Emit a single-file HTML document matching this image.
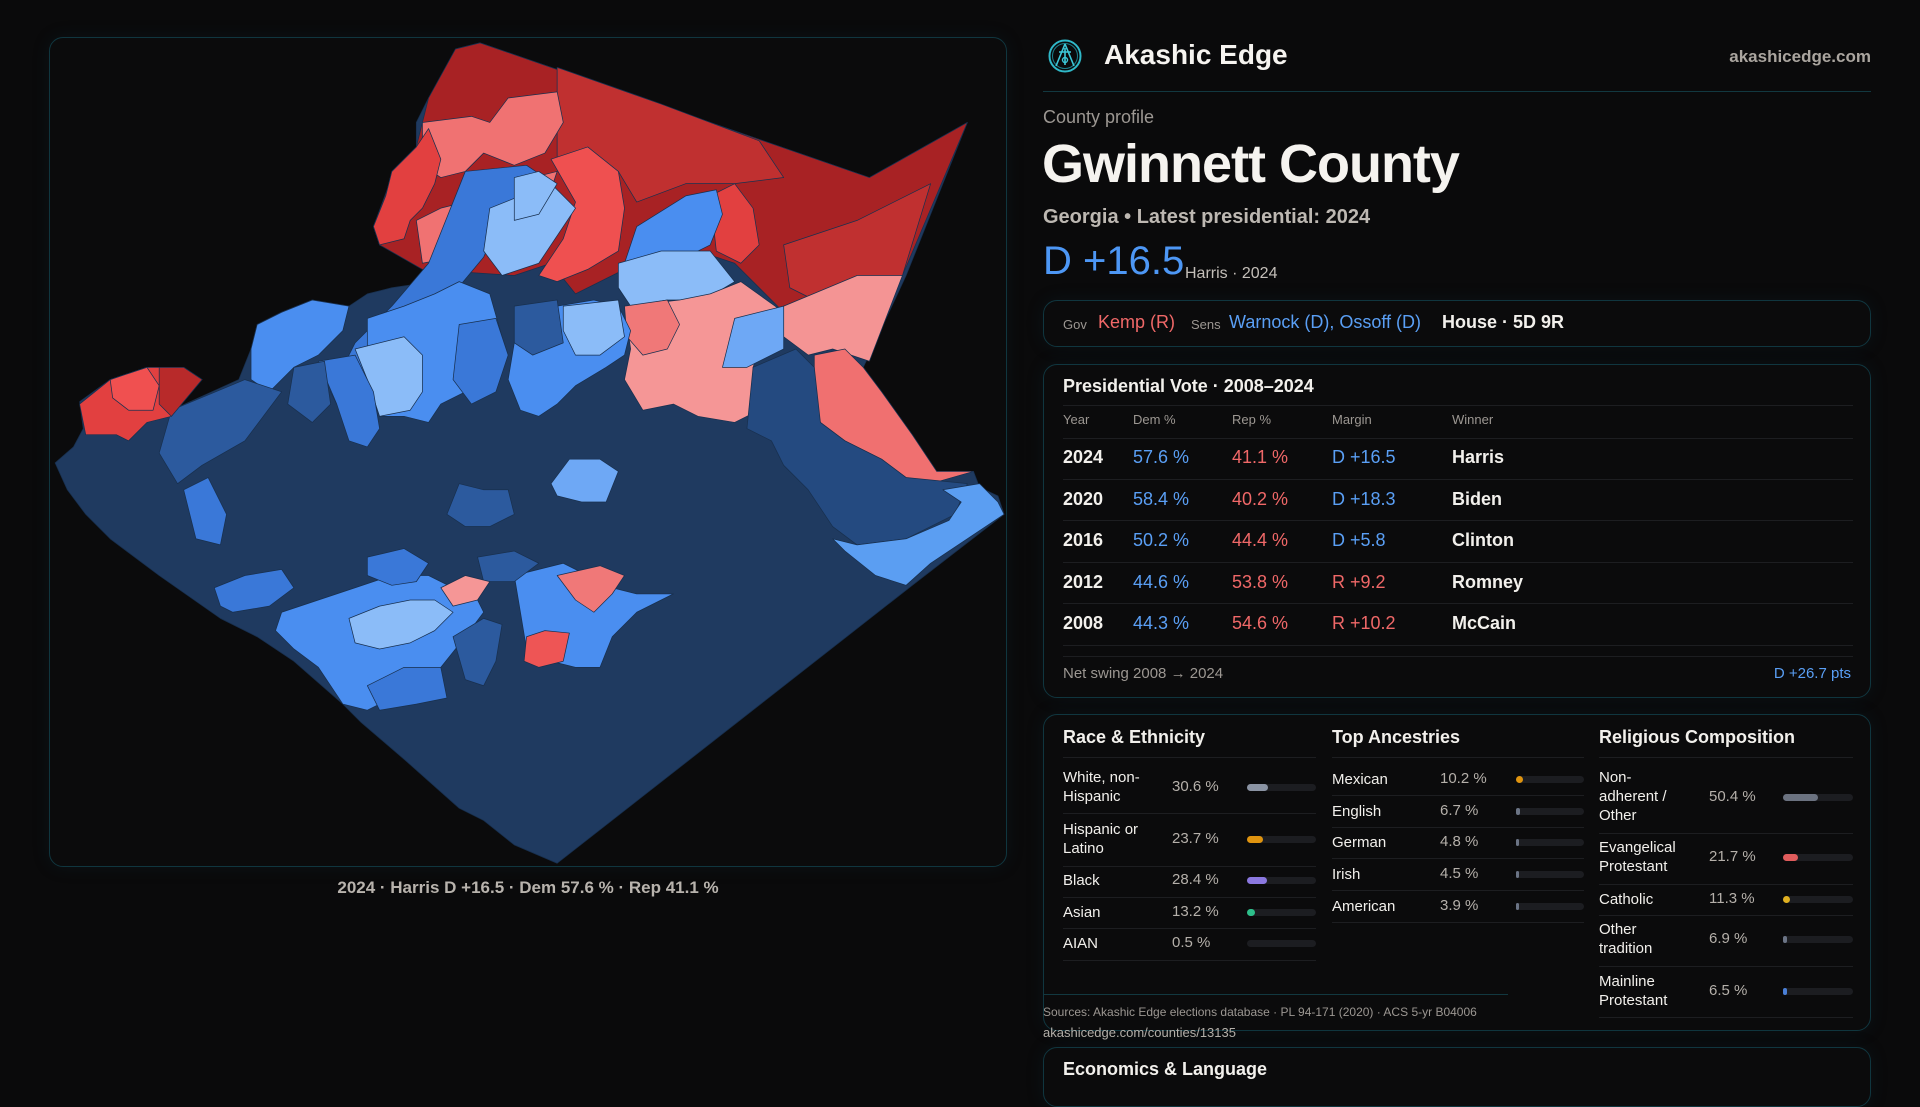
<!DOCTYPE html>
<html><head><meta charset="utf-8">
<style>
*{margin:0;padding:0;box-sizing:border-box}
html,body{width:1920px;height:1080px;background:#0a0a0b;overflow:hidden;font-family:"Liberation Sans",sans-serif;color:#f2f0ec}
.a{position:absolute;white-space:nowrap}
.box{position:absolute;border:1px solid #10363f;border-radius:14px;background:#0b0b0c;box-shadow:0 0 18px rgba(20,70,90,0.15)}
.g{color:#9c9792}
.b{color:#5a9ff5}
.r{color:#f06868}
.ln{position:absolute;height:1px;background:#1d1e21}
.trk{position:absolute;height:7px;border-radius:4px;background:#1c1d21}
.fil{position:absolute;height:7px;border-radius:4px;left:0;top:0}
.lbl{font-size:15px;line-height:19px;color:#f2f0ec}
.val{font-size:15px;color:#b5b0aa}
</style></head><body>

<div class="box" style="left:49px;top:37px;width:958px;height:830px"></div>
<svg class="a" style="left:0;top:0" width="1920" height="1080" viewBox="0 0 1568 882">
<g stroke="#18304f" stroke-width="0.6" stroke-linejoin="round">
<polygon fill="#1f3a60" points="392,35 710,145 790,100 740,225 705,300 720,320 745,355 765,385 795,385 800,398 815,405 820,420 745,478 455,705 420,690 395,670 375,660 330,620 295,590 280,575 240,540 210,520 180,505 130,470 90,440 70,420 55,400 45,378 60,365 68,350 65,328 90,310 120,300 150,300 165,310 140,335 195,310 205,285 210,265 230,255 255,245 285,250 300,240 320,235 340,232 350,225 345,215 310,200 305,185 315,160 320,140 340,120 340,100 350,80 360,70 372,40"/>
<polygon fill="#a82224" points="350,80 372,40 392,35 710,145 790,100 737,225 700,230 660,250 640,255 600,215 555,200 510,220 470,240 450,215 420,225 345,220 310,200 305,185 318,150 340,120"/>
<polygon fill="#c03030" points="455,55 540,85 620,115 640,145 600,150 560,150 520,165 505,140 480,155 455,130"/>
<polygon fill="#c03030" points="640,200 700,180 760,150 737,225 700,230 665,245 645,235"/>
<polygon fill="#f07272" points="345,100 385,95 400,100 415,80 455,75 460,100 445,125 420,135 395,125 380,140 360,145 345,135"/>
<polygon fill="#f07272" points="340,180 360,170 380,165 400,175 415,160 435,145 455,140 440,185 405,200 370,210 345,215"/>
<polygon fill="#e24040" points="305,185 315,160 320,140 340,120 350,105 360,130 355,150 345,170 335,180 330,195 310,200"/>
<polygon fill="#ef5050" points="450,130 480,120 505,140 510,170 505,205 480,220 455,230 440,225 460,195 470,165"/>
<polygon fill="#e24040" points="580,160 600,150 615,170 620,200 605,215 585,205"/>
<polygon fill="#4a8ef0" points="520,185 560,160 585,155 590,175 580,200 560,210 535,215 510,215"/>
<polygon fill="#8bbcf8" points="505,215 540,205 580,205 600,230 575,245 545,245 515,250 505,235"/>
<polygon fill="#f59696" points="510,250 555,245 580,240 605,230 640,255 625,270 615,300 620,335 600,345 570,340 550,330 525,335 510,310 515,285"/>
<polygon fill="#f07878" points="510,250 545,245 555,265 545,285 525,290 512,275"/>
<polygon fill="#f49494" points="640,250 700,225 737,225 710,295 680,285 660,290 640,275"/>
<polygon fill="#f07070" points="665,290 690,285 705,300 720,320 745,355 765,385 795,385 760,395 740,390 720,375 690,360 670,345 665,320"/>
<polygon fill="#6ea8f5" points="600,260 640,250 640,285 610,300 590,300"/>
<polygon fill="#3a78d8" points="380,140 430,135 445,145 410,175 395,210 370,240 350,265 330,290 310,300 300,330 285,350 270,320 290,280 320,250 350,215"/>
<polygon fill="#8bbcf8" points="400,170 450,150 470,170 440,215 410,225 395,205"/>
<polygon fill="#8bbcf8" points="420,145 440,140 455,150 440,175 420,180"/>
<polygon fill="#4a8ef0" points="300,260 330,250 355,240 375,230 400,240 410,275 390,300 380,320 360,330 350,345 330,340 310,340 300,305"/>
<polygon fill="#8bbcf8" points="290,285 330,275 345,290 345,320 335,335 310,340 300,310"/>
<polygon fill="#4a8ef0" points="205,285 210,265 230,255 255,245 285,250 280,270 260,290 240,300 220,320 205,310"/>
<polygon fill="#3a78d8" points="260,295 290,290 305,320 310,350 300,365 285,360 275,330"/>
<polygon fill="#2c5a9e" points="140,335 200,310 230,320 200,360 165,380 145,395 130,370"/>
<polygon fill="#3a78d8" points="150,400 170,390 185,420 180,445 160,440"/>
<polygon fill="#2c5a9e" points="240,300 265,295 270,330 255,345 235,330"/>
<polygon fill="#e24040" points="65,330 90,310 120,300 150,300 165,310 140,340 120,345 105,360 95,355 70,355"/>
<polygon fill="#f05050" points="90,310 120,300 130,315 125,335 105,335 92,325"/>
<polygon fill="#b82a2a" points="130,300 150,300 165,310 140,340 130,330"/>
<polygon fill="#4a8ef0" points="420,260 455,250 485,245 505,250 515,270 510,290 495,300 470,315 455,330 440,340 425,335 415,310 420,280"/>
<polygon fill="#8bbcf8" points="460,250 505,245 510,275 490,290 470,290 460,270"/>
<polygon fill="#2c5a9e" points="420,250 455,245 460,280 435,290 420,280"/>
<polygon fill="#3a78d8" points="375,265 405,260 415,290 405,320 385,330 370,310"/>
<polygon fill="#6ea8f5" points="465,375 490,375 505,385 495,410 475,410 455,405 450,395"/>
<polygon fill="#2c5a9e" points="375,395 395,400 415,400 420,420 400,430 380,430 365,420"/>
<polygon fill="#244a80" points="615,300 650,285 665,300 670,345 690,360 720,375 740,390 790,395 780,420 740,440 700,445 680,430 660,400 640,380 630,360 610,350"/>
<polygon fill="#5b9ef2" points="770,400 800,395 815,410 820,420 760,460 740,478 715,470 690,450 680,440 700,445 740,440 775,425 785,410"/>
<polygon fill="#4a8ef0" points="230,500 260,490 290,480 320,470 350,470 370,480 390,490 395,500 380,520 360,545 345,560 320,570 300,580 280,575 260,545 240,530 225,515"/>
<polygon fill="#8bbcf8" points="285,505 310,495 335,490 355,490 370,500 355,515 335,525 310,530 290,525"/>
<polygon fill="#3a78d8" points="175,480 200,470 230,465 240,480 220,495 190,500 180,495"/>
<polygon fill="#3a78d8" points="300,455 330,448 350,460 340,475 320,478 300,470"/>
<polygon fill="#4a8ef0" points="420,470 460,460 480,470 500,480 520,485 550,485 520,500 500,520 490,545 470,545 450,540 430,530 425,500"/>
<polygon fill="#2c5a9e" points="390,455 420,450 440,460 420,475 395,475"/>
<polygon fill="#f59696" points="360,480 380,470 400,475 390,490 370,495"/>
<polygon fill="#f07878" points="455,470 490,462 510,470 500,485 485,500 470,490"/>
<polygon fill="#ee5555" points="430,520 445,515 465,517 460,540 440,545 428,540"/>
<polygon fill="#3a78d8" points="300,560 330,545 360,545 365,570 340,575 310,580"/>
<polygon fill="#2c5a9e" points="395,505 410,510 405,540 395,560 380,555 370,520"/>
</g>
</svg>
<div class="a" style="left:0;width:1056px;top:878px;text-align:center;font-size:17px;color:#b8b3ad;font-weight:bold">2024 · Harris D +16.5 · Dem 57.6 % · Rep 41.1 %</div>

<!-- header -->
<svg class="a" style="left:1047px;top:38px" width="36" height="36" viewBox="0 0 36 36"><circle cx="18" cy="18" r="15.5" fill="none" stroke="#2fb8c8" stroke-width="2"/><circle cx="18" cy="18" r="12.5" fill="none" stroke="#1d7f8c" stroke-width="1"/><path d="M18 6 L9 28 M18 6 L27 28 M12 14 L24 14 M18 10 L18 27" stroke="#3cc8d8" stroke-width="1.6" fill="none"/><circle cx="18" cy="22" r="2.5" fill="none" stroke="#3cc8d8" stroke-width="1.4"/></svg>
<div class="a" style="left:1104px;top:39px;font-size:28px;font-weight:bold;color:#f6f4f0">Akashic Edge</div>
<div class="a" style="right:49px;top:47px;font-size:17px;font-weight:bold;color:#aaa59f">akashicedge.com</div>
<div class="a" style="left:1043px;top:91px;width:828px;height:1px;background:#123840"></div>
<div class="a g" style="left:1043px;top:107px;font-size:18px">County profile</div>
<div class="a" style="left:1042px;top:133px;font-size:54px;font-weight:bold;color:#f5f3ef;letter-spacing:-1px">Gwinnett County</div>
<div class="a" style="left:1043px;top:206px;font-size:20px;font-weight:bold;color:#bdb8b2">Georgia • Latest presidential: 2024</div>
<div class="a" style="left:1043px;top:239px;font-size:40px;color:#4d97f5">D +16.5</div>
<div class="a" style="left:1185px;top:265px;font-size:16px;color:#c4bfb9">Harris · 2024</div>

<div class="box" style="left:1043px;top:300px;width:828px;height:47px"></div>
<div class="a g" style="left:1063px;top:317px;font-size:13px">Gov</div>
<div class="a r" style="left:1098px;top:312px;font-size:18px">Kemp (R)</div>
<div class="a g" style="left:1191px;top:317px;font-size:13px">Sens</div>
<div class="a b" style="left:1229px;top:312px;font-size:18px">Warnock (D), Ossoff (D)</div>
<div class="a" style="left:1442px;top:312px;font-size:18px;font-weight:bold">House · 5D 9R</div>

<!-- presidential -->
<div class="box" style="left:1043px;top:364px;width:828px;height:334px"></div>
<div class="a" style="left:1063px;top:376px;font-size:18px;font-weight:bold">Presidential Vote · 2008–2024</div>
<div class="ln" style="left:1063px;width:790px;top:405px"></div>
<div class="a g" style="left:1063px;top:412px;font-size:13px">Year</div>
<div class="a g" style="left:1133px;top:412px;font-size:13px">Dem %</div>
<div class="a g" style="left:1232px;top:412px;font-size:13px">Rep %</div>
<div class="a g" style="left:1332px;top:412px;font-size:13px">Margin</div>
<div class="a g" style="left:1452px;top:412px;font-size:13px">Winner</div>
<div class="ln" style="left:1063px;width:790px;top:438px"></div>

<div class="a" style="left:1063px;top:447px;font-size:18px;font-weight:bold">2024</div><div class="a b" style="left:1133px;top:447px;font-size:18px">57.6 %</div><div class="a r" style="left:1232px;top:447px;font-size:18px">41.1 %</div><div class="a b" style="left:1332px;top:447px;font-size:18px">D +16.5</div><div class="a" style="left:1452px;top:447px;font-size:18px;font-weight:bold">Harris</div>
<div class="ln" style="left:1063px;width:790px;top:479px"></div>
<div class="a" style="left:1063px;top:489px;font-size:18px;font-weight:bold">2020</div><div class="a b" style="left:1133px;top:489px;font-size:18px">58.4 %</div><div class="a r" style="left:1232px;top:489px;font-size:18px">40.2 %</div><div class="a b" style="left:1332px;top:489px;font-size:18px">D +18.3</div><div class="a" style="left:1452px;top:489px;font-size:18px;font-weight:bold">Biden</div>
<div class="ln" style="left:1063px;width:790px;top:520px"></div>
<div class="a" style="left:1063px;top:530px;font-size:18px;font-weight:bold">2016</div><div class="a b" style="left:1133px;top:530px;font-size:18px">50.2 %</div><div class="a r" style="left:1232px;top:530px;font-size:18px">44.4 %</div><div class="a b" style="left:1332px;top:530px;font-size:18px">D +5.8</div><div class="a" style="left:1452px;top:530px;font-size:18px;font-weight:bold">Clinton</div>
<div class="ln" style="left:1063px;width:790px;top:562px"></div>
<div class="a" style="left:1063px;top:572px;font-size:18px;font-weight:bold">2012</div><div class="a b" style="left:1133px;top:572px;font-size:18px">44.6 %</div><div class="a r" style="left:1232px;top:572px;font-size:18px">53.8 %</div><div class="a r" style="left:1332px;top:572px;font-size:18px">R +9.2</div><div class="a" style="left:1452px;top:572px;font-size:18px;font-weight:bold">Romney</div>
<div class="ln" style="left:1063px;width:790px;top:603px"></div>
<div class="a" style="left:1063px;top:613px;font-size:18px;font-weight:bold">2008</div><div class="a b" style="left:1133px;top:613px;font-size:18px">44.3 %</div><div class="a r" style="left:1232px;top:613px;font-size:18px">54.6 %</div><div class="a r" style="left:1332px;top:613px;font-size:18px">R +10.2</div><div class="a" style="left:1452px;top:613px;font-size:18px;font-weight:bold">McCain</div>
<div class="ln" style="left:1063px;width:790px;top:645px"></div>
<div class="ln" style="left:1063px;width:790px;top:656px"></div>
<div class="a g" style="left:1063px;top:665px;font-size:15px">Net swing 2008 → 2024</div>
<div class="a b" style="right:69px;top:665px;font-size:15px">D +26.7 pts</div>

<!-- demographics -->
<div class="box" style="left:1043px;top:714px;width:828px;height:317px"></div>
<div class="a" style="left:1063px;top:727px;font-size:18px;font-weight:bold">Race &amp; Ethnicity</div>
<div class="a" style="left:1332px;top:727px;font-size:18px;font-weight:bold">Top Ancestries</div>
<div class="a" style="left:1599px;top:727px;font-size:18px;font-weight:bold">Religious Composition</div>
<div class="ln" style="left:1063px;width:253px;top:757px"></div>
<div class="ln" style="left:1332px;width:252px;top:757px"></div>
<div class="ln" style="left:1599px;width:254px;top:757px"></div>

<div class="a lbl" style="left:1063px;top:768px">White, non-<br>Hispanic</div><div class="a val" style="left:1172px;top:778px">30.6 %</div>
<div class="trk" style="left:1247px;width:69px;top:784px"><div class="fil" style="width:21px;background:#8a93a3"></div></div>
<div class="ln" style="left:1063px;width:253px;top:813px"></div>
<div class="a lbl" style="left:1063px;top:820px">Hispanic or<br>Latino</div><div class="a val" style="left:1172px;top:830px">23.7 %</div>
<div class="trk" style="left:1247px;width:69px;top:836px"><div class="fil" style="width:16px;background:#e0940f"></div></div>
<div class="ln" style="left:1063px;width:253px;top:866px"></div>
<div class="a lbl" style="left:1063px;top:871px">Black</div><div class="a val" style="left:1172px;top:871px">28.4 %</div>
<div class="trk" style="left:1247px;width:69px;top:877px"><div class="fil" style="width:20px;background:#8b78e0"></div></div>
<div class="ln" style="left:1063px;width:253px;top:897px"></div>
<div class="a lbl" style="left:1063px;top:903px">Asian</div><div class="a val" style="left:1172px;top:903px">13.2 %</div>
<div class="trk" style="left:1247px;width:69px;top:909px"><div class="fil" style="width:8px;background:#2dbf8a"></div></div>
<div class="ln" style="left:1063px;width:253px;top:928px"></div>
<div class="a lbl" style="left:1063px;top:934px">AIAN</div><div class="a val" style="left:1172px;top:934px">0.5 %</div>
<div class="trk" style="left:1247px;width:69px;top:940px"></div>
<div class="ln" style="left:1063px;width:253px;top:960px"></div>

<div class="a lbl" style="left:1332px;top:770px">Mexican</div><div class="a val" style="left:1440px;top:770px">10.2 %</div>
<div class="trk" style="left:1516px;width:68px;top:776px"><div class="fil" style="width:7px;background:#e0940f"></div></div>
<div class="ln" style="left:1332px;width:252px;top:795px"></div>
<div class="a lbl" style="left:1332px;top:802px">English</div><div class="a val" style="left:1440px;top:802px">6.7 %</div>
<div class="trk" style="left:1516px;width:68px;top:808px"><div class="fil" style="width:4px;background:#6b7485"></div></div>
<div class="ln" style="left:1332px;width:252px;top:827px"></div>
<div class="a lbl" style="left:1332px;top:833px">German</div><div class="a val" style="left:1440px;top:833px">4.8 %</div>
<div class="trk" style="left:1516px;width:68px;top:839px"><div class="fil" style="width:3px;background:#6b7485"></div></div>
<div class="ln" style="left:1332px;width:252px;top:858px"></div>
<div class="a lbl" style="left:1332px;top:865px">Irish</div><div class="a val" style="left:1440px;top:865px">4.5 %</div>
<div class="trk" style="left:1516px;width:68px;top:871px"><div class="fil" style="width:3px;background:#6b7485"></div></div>
<div class="ln" style="left:1332px;width:252px;top:890px"></div>
<div class="a lbl" style="left:1332px;top:897px">American</div><div class="a val" style="left:1440px;top:897px">3.9 %</div>
<div class="trk" style="left:1516px;width:68px;top:903px"><div class="fil" style="width:3px;background:#6b7485"></div></div>
<div class="ln" style="left:1332px;width:252px;top:922px"></div>

<div class="a lbl" style="left:1599px;top:768px">Non-<br>adherent /<br>Other</div><div class="a val" style="left:1709px;top:788px">50.4 %</div>
<div class="trk" style="left:1783px;width:70px;top:794px"><div class="fil" style="width:35px;background:#6b7280"></div></div>
<div class="ln" style="left:1599px;width:254px;top:833px"></div>
<div class="a lbl" style="left:1599px;top:838px">Evangelical<br>Protestant</div><div class="a val" style="left:1709px;top:848px">21.7 %</div>
<div class="trk" style="left:1783px;width:70px;top:854px"><div class="fil" style="width:15px;background:#e05c5c"></div></div>
<div class="ln" style="left:1599px;width:254px;top:884px"></div>
<div class="a lbl" style="left:1599px;top:890px">Catholic</div><div class="a val" style="left:1709px;top:890px">11.3 %</div>
<div class="trk" style="left:1783px;width:70px;top:896px"><div class="fil" style="width:7px;background:#e0b020"></div></div>
<div class="ln" style="left:1599px;width:254px;top:915px"></div>
<div class="a lbl" style="left:1599px;top:920px">Other<br>tradition</div><div class="a val" style="left:1709px;top:930px">6.9 %</div>
<div class="trk" style="left:1783px;width:70px;top:936px"><div class="fil" style="width:4px;background:#6b7485"></div></div>
<div class="ln" style="left:1599px;width:254px;top:966px"></div>
<div class="a lbl" style="left:1599px;top:972px">Mainline<br>Protestant</div><div class="a val" style="left:1709px;top:982px">6.5 %</div>
<div class="trk" style="left:1783px;width:70px;top:988px"><div class="fil" style="width:4px;background:#4a7fd6"></div></div>
<div class="ln" style="left:1599px;width:254px;top:1017px"></div>

<div class="a" style="left:1043px;top:994px;width:465px;height:1px;background:#123840"></div>
<div class="a g" style="left:1043px;top:1005px;font-size:12px">Sources: Akashic Edge elections database · PL 94-171 (2020) · ACS 5-yr B04006</div>
<div class="a" style="left:1043px;top:1025px;font-size:13px;color:#b5b0aa">akashicedge.com/counties/13135</div>

<div class="box" style="left:1043px;top:1047px;width:828px;height:60px"></div>
<div class="a" style="left:1063px;top:1059px;font-size:18px;font-weight:bold">Economics &amp; Language</div>
</body></html>
